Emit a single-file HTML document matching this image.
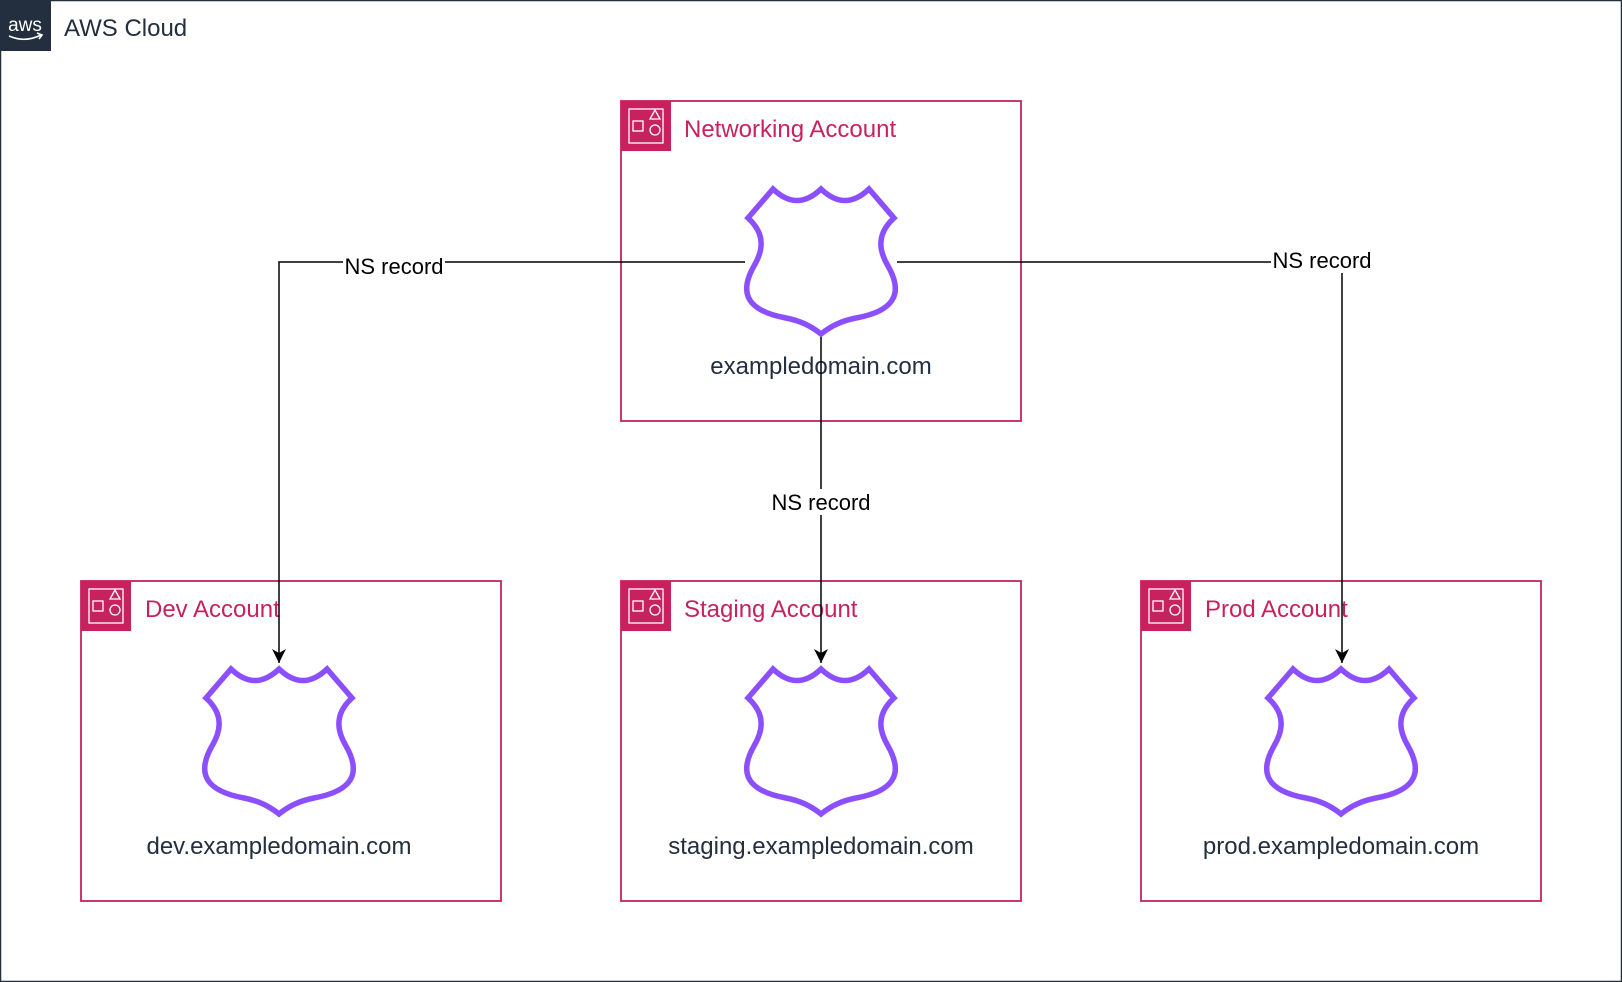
<!DOCTYPE html>
<html><head><meta charset="utf-8"><style>
html,body{margin:0;padding:0;background:#fff;}
svg{display:block;}
text{font-family:"Liberation Sans",Arial,sans-serif;}
</style></head><body>
<svg width="1622" height="982" viewBox="0 0 1622 982" xmlns="http://www.w3.org/2000/svg">
<defs>
<g id="shield">
<path d="M27,3 Q51,26 75,3 Q99,26 123,3 L148,32 C128,50 135,68 142,80 C158,108 148,125 110,132 C95,135 85,140 75,148 C65,140 55,135 40,132 C2,125 -8,108 8,80 C15,68 22,50 2,32 Z" fill="none" stroke="#8C4FFF" stroke-width="5.5" stroke-linejoin="miter"/>
</g>
<g id="acct">
<rect x="0" y="0" width="50" height="50" fill="#C7225E"/>
<rect x="8" y="8" width="34" height="34" fill="none" stroke="#fff" stroke-width="1.3"/>
<rect x="12" y="20" width="10" height="10" fill="none" stroke="#fff" stroke-width="1.3"/>
<path d="M29,18 L34,9 L39,18 Z" fill="none" stroke="#fff" stroke-width="1.3"/>
<circle cx="34" cy="29" r="5" fill="none" stroke="#fff" stroke-width="1.3"/>
</g>
<marker id="arr" markerWidth="16" markerHeight="16" refX="14" refY="7" orient="auto" markerUnits="userSpaceOnUse">
<path d="M0,0 L14,7 L0,14 L4,7 Z" fill="#000"/>
</marker>
</defs>
<rect x="0.5" y="0.5" width="1621" height="981" fill="#fff" stroke="#232F3E" stroke-width="1.5"/>
<rect x="0" y="0" width="51" height="51" fill="#232F3E"/>
<text x="25" y="31" fill="#fff" font-size="19" text-anchor="middle">aws</text>
<path d="M9,36 Q25,43 41,35 M37,33 L42,35 L39,39" fill="none" stroke="#fff" stroke-width="1.6"/>
<text x="64" y="36" fill="#232F3E" font-size="24">AWS Cloud</text>

<rect x="621" y="101" width="400" height="320" fill="none" stroke="#C7225E" stroke-width="1.8"/>
<use href="#acct" x="621" y="101"/>
<text x="684" y="137" fill="#C7225E" font-size="24">Networking Account</text>

<rect x="81" y="581" width="420" height="320" fill="none" stroke="#C7225E" stroke-width="1.8"/>
<use href="#acct" x="81" y="581"/>
<text x="145" y="617" fill="#C7225E" font-size="24">Dev Account</text>

<rect x="621" y="581" width="400" height="320" fill="none" stroke="#C7225E" stroke-width="1.8"/>
<use href="#acct" x="621" y="581"/>
<text x="684" y="617" fill="#C7225E" font-size="24">Staging Account</text>

<rect x="1141" y="581" width="400" height="320" fill="none" stroke="#C7225E" stroke-width="1.8"/>
<use href="#acct" x="1141" y="581"/>
<text x="1205" y="617" fill="#C7225E" font-size="24">Prod Account</text>

<use href="#shield" x="746" y="186"/>
<use href="#shield" x="204" y="666"/>
<use href="#shield" x="746" y="666"/>
<use href="#shield" x="1266" y="666"/>

<text x="821" y="374" fill="#232F3E" font-size="24" text-anchor="middle">exampledomain.com</text>
<text x="279" y="854" fill="#232F3E" font-size="24" text-anchor="middle">dev.exampledomain.com</text>
<text x="821" y="854" fill="#232F3E" font-size="24" text-anchor="middle">staging.exampledomain.com</text>
<text x="1341" y="854" fill="#232F3E" font-size="24" text-anchor="middle">prod.exampledomain.com</text>

<path d="M745,262 L279,262 L279,663" fill="none" stroke="#000" stroke-width="1.5" marker-end="url(#arr)"/>
<path d="M897,262 L1342,262 L1342,663" fill="none" stroke="#000" stroke-width="1.5" marker-end="url(#arr)"/>
<path d="M821,337 L821,663" fill="none" stroke="#000" stroke-width="1.5" marker-end="url(#arr)"/>

<rect x="343" y="253" width="102" height="24" fill="#fff"/>
<text x="394" y="274" fill="#000" font-size="22" text-anchor="middle">NS record</text>
<rect x="1271" y="249" width="102" height="24" fill="#fff"/>
<text x="1322" y="268" fill="#000" font-size="22" text-anchor="middle">NS record</text>
<rect x="770" y="489" width="102" height="26" fill="#fff"/>
<text x="821" y="510" fill="#000" font-size="22" text-anchor="middle">NS record</text>
</svg>
</body></html>
